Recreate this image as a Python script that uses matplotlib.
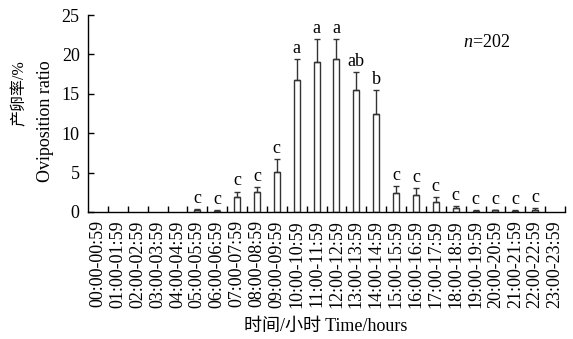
import matplotlib
matplotlib.use("Agg")
import matplotlib.pyplot as plt
import numpy as np

hour_labels = [f"{h:02d}:00-{h:02d}:59" for h in range(24)]
means = [0, 0, 0, 0, 0, 0.2, 0.15, 1.95, 2.5, 5.1, 16.75, 19.05, 19.4, 15.5, 12.4,
         2.45, 2.2, 1.3, 0.47, 0.15, 0.2, 0.1, 0.3, 0]
errors = [0, 0, 0, 0, 0, 0.2, 0.15, 0.65, 0.7, 1.6, 2.65, 2.85, 2.6, 2.3, 3.1,
          0.85, 0.8, 0.65, 0.23, 0.15, 0.1, 0.1, 0.2, 0]
letters = ["", "", "", "", "", "c", "c", "c", "c", "c", "a", "a", "a", "ab", "b",
           "c", "c", "c", "c", "c", "c", "c", "c", ""]

serif = ["Liberation Serif", "Noto Sans CJK SC", "DejaVu Sans"]
plt.rcParams["font.family"] = serif
plt.rcParams["mathtext.fontset"] = "custom"
plt.rcParams["mathtext.it"] = "Liberation Serif:italic"
plt.rcParams["mathtext.rm"] = "Liberation Serif"

fig = plt.figure(figsize=(5.73, 3.39), dpi=100)
ax = fig.add_axes([88 / 573, 1 - 212 / 339, (565 - 88) / 573, (212 - 15) / 339])

x = np.arange(len(means))
m_arr = np.array(means, dtype=float)
e_arr = np.array(errors, dtype=float)
nz = m_arr > 0
ax.bar(x[nz], m_arr[nz], width=0.3, color="white", edgecolor="#333333", linewidth=1.0, zorder=2)
ax.errorbar(x[nz], m_arr[nz], yerr=[np.zeros(nz.sum()), e_arr[nz]], fmt="none",
            ecolor="#333333", elinewidth=1.0, capsize=2.5, capthick=1.0, zorder=3)

for xi, m, e, lab in zip(x, means, errors, letters):
    if lab:
        ax.annotate(lab, (xi, m + e), xytext=(0, 1.5), textcoords="offset points",
                    ha="center", va="bottom", fontsize=13)

ax.set_xlim(-0.5, len(means) - 0.5)
ax.set_ylim(0, 25)
ax.set_yticks([0, 5, 10, 15, 20, 25])
ax.set_xticks(x)
ax.set_xticklabels(hour_labels, rotation=90, fontsize=13)
ax.set_xticks(np.arange(0.5, len(means), 1.0), minor=True)
ax.tick_params(axis="x", which="major", length=0, pad=6)
ax.tick_params(axis="x", which="minor", direction="in", length=4, width=1)
ax.tick_params(axis="y", direction="in", length=4, width=1, labelsize=13, pad=6)
for s in ["top", "right"]:
    ax.spines[s].set_visible(False)
for s in ["left", "bottom"]:
    ax.spines[s].set_linewidth(1.0)

ax.text(0.787, 0.86, r"$n$=202", transform=ax.transAxes, fontsize=13, ha="left", va="center")

fig.text(20 / 573, 1 - 60 / 339, "产卵率/%", rotation=90, ha="center", va="top", fontsize=11.5)
fig.text(45 / 573, 1 - 60 / 339, "Oviposition ratio", rotation=90, ha="center", va="top", fontsize=13)
fig.text(326 / 573, 1 - 326 / 339, "时间/小时 Time/hours", ha="center", va="center", fontsize=13)

fig.savefig("out.png", dpi=100)
